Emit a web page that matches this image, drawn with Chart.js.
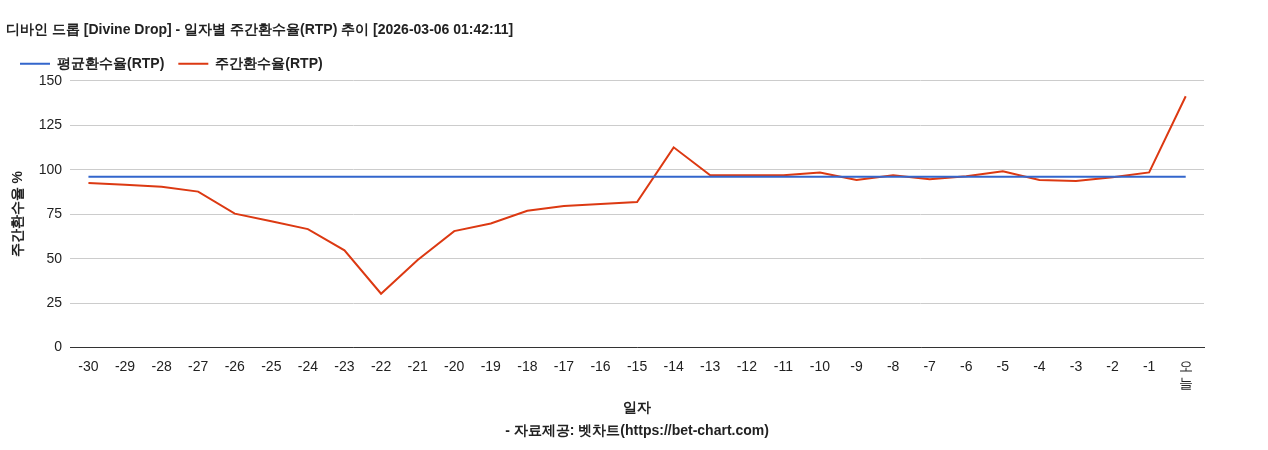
<!DOCTYPE html>
<html>
<head>
<meta charset="utf-8">
<script src="https://cdn.jsdelivr.net/npm/chart.js@4"></script>
<style>
  body { margin: 0; background: #fff; }
  #wrap { width: 1268px; height: 450px; }
</style>
</head>
<body>
<div id="wrap"><canvas id="rtpChart"></canvas></div>
<script>
var days = ['-30','-29','-28','-27','-26','-25','-24','-23','-22','-21','-20','-19','-18','-17','-16','-15','-14','-13','-12','-11','-10','-9','-8','-7','-6','-5','-4','-3','-2','-1',['오','늘']];
var weeklyRtp = [92.6, 91.5, 90.4, 87.7, 75.3, 71, 66.6, 54.7, 30.3, 49.3, 65.5, 69.8, 76.9, 79.6, 80.7, 81.8, 112.6, 96.9, 96.9, 96.9, 98.5, 94.2, 96.9, 94.7, 96.4, 99.1, 94.2, 93.7, 95.8, 98.5, 141.3];
var avgRtp = 96.1;
var yTicks = [0, 25, 50, 75, 100, 125, 150];

Chart.defaults.font.family = "'Liberation Sans', Arial, sans-serif";
Chart.defaults.color = '#222';

var ctx = document.getElementById('rtpChart').getContext('2d');
var rtpChart = new Chart(ctx, {
    type: 'line',
    data: {
        labels: days,
        datasets: [{
            label: '평균환수율(RTP)',
            data: days.map(function () { return avgRtp; }),
            borderColor: '#3366cc',
            backgroundColor: '#3366cc',
            borderWidth: 2,
            pointRadius: 0
        }, {
            label: '주간환수율(RTP)',
            data: weeklyRtp,
            borderColor: '#dc3912',
            backgroundColor: '#dc3912',
            borderWidth: 2,
            pointRadius: 0,
            tension: 0
        }]
    },
    options: {
        responsive: true,
        maintainAspectRatio: false,
        animation: false,
        layout: { padding: { left: 6, right: 64, top: 10, bottom: 4 } },
        plugins: {
            title: {
                display: true,
                text: '디바인 드롭 [Divine Drop] - 일자별 주간환수율(RTP) 추이 [2026-03-06 01:42:11]',
                align: 'start',
                font: { size: 14, weight: 'bold' },
                color: '#222',
                padding: { left: 58, top: 12, bottom: 4 }
            },
            legend: {
                align: 'start',
                labels: {
                    boxWidth: 30,
                    boxHeight: 0,
                    font: { size: 14, weight: 'bold' },
                    color: '#222',
                    padding: 14
                }
            }
        },
        scales: {
            y: {
                min: 0,
                max: 150,
                afterBuildTicks: function (axis) {
                    axis.ticks = yTicks.map(function (v) { return { value: v }; });
                },
                grid: { color: '#cccccc', drawTicks: false },
                border: { display: false },
                ticks: { font: { size: 14 }, padding: 8 },
                title: {
                    display: true,
                    text: '주간환수율 %',
                    font: { size: 14, weight: 'bold' }
                }
            },
            x: {
                offset: true,
                grid: { display: false, offset: true },
                border: { color: '#333' },
                ticks: { font: { size: 14 }, minRotation: 0, maxRotation: 0, autoSkip: false },
                title: {
                    display: true,
                    text: ['일자', '- 자료제공: 벳차트(https://bet-chart.com)'],
                    font: { size: 14, weight: 'bold', lineHeight: 1.6 },
                    padding: { top: 2 }
                }
            }
        }
    }
});
</script>
</body>
</html>
